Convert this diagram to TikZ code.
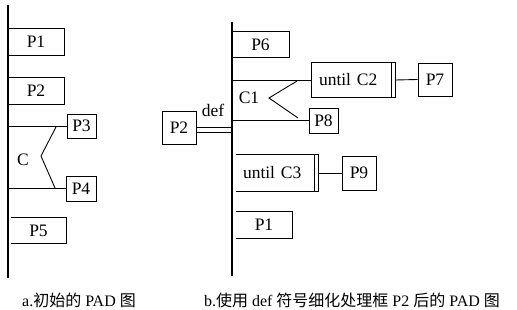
\documentclass[tikz,border=0pt]{standalone}
\usepackage{fontspec}
\setmainfont{Liberation Serif}
\newfontfamily\cjk{Noto Sans CJK SC}

\begin{document}
\begin{tikzpicture}[x=1pt,y=-1pt,line width=0.9pt,
    every node/.style={font=\fontsize{17.5}{19}\selectfont},
    seqbox/.style={minimum width=56pt,minimum height=26pt,inner sep=0pt},
    procbox/.style={draw,minimum width=30pt,minimum height=25pt,inner sep=0pt},
    loopbox/.style={text width=65pt,inner xsep=7pt,inner ysep=0pt,minimum height=35pt}]
\useasboundingbox (0,0) rectangle (517,310);

% a. initial PAD
\coordinate (atop) at (8,5);
\coordinate (abot) at (8,278);
\draw[line width=1.3pt] (atop) -- (abot);
\node[seqbox] (a1) at (36,42) {P1};
\node[seqbox] (a2) at (36,91) {P2};
\node[procbox,minimum width=29pt,minimum height=24pt] (a3) at (81.5,126) {P3};
\node[procbox] (a4) at (81,188.5) {P4};
\node[seqbox,minimum width=55pt,minimum height=25pt] (a5) at (38.5,230.5) {P5};
\node (ac) at (23,160) {C};
\draw (a3.west -| atop) -- (a3.west);
\draw (a4.west -| atop) -- (a4.west);
\draw (56,127) -- (41,156) -- (55,188);

% b. after refining P2 with def
\coordinate (btop) at (232,22);
\coordinate (bbot) at (232,276);
\draw[line width=1.3pt] (btop) -- (bbot);
\node[seqbox,minimum width=57pt,minimum height=25pt] (b6) at (260.5,44.5) {P6};
\node[loopbox] (c2) at (351.5,80) {until C2};
\node[procbox,minimum width=34pt,minimum height=33pt] (b7) at (435,79.5) {P7};
\node[procbox,minimum width=29pt] (b8) at (323.5,120.5) {P8};
\node (c1) at (249,98) {C1};
\node[procbox,minimum width=34pt,minimum height=33pt] (b2) at (179,127.5) {P2};
\node (def) at (213,110) {def};
\node[loopbox,text width=64pt,minimum height=36pt] (c3) at (275,173) {until C3};
\node[procbox,minimum width=34pt,minimum height=34pt] (b9) at (359,173) {P9};
\node[seqbox] (b1) at (264,225) {P1};

\draw (c2.west -| btop) -- (c2.west);
\draw ([xshift=4pt]c2.east) -- (b7.west);
\draw (b8.west -| btop) -- (b8.west);
\draw (297,81) -- (269,98) -- (298,118);
\draw ([yshift=0.5pt]b2.east) -- ([yshift=0.5pt]b2.east -| btop);
\draw ([yshift=-4.5pt]b2.east) -- ([yshift=-4.5pt]b2.east -| btop);
\draw ([xshift=4pt]c3.east) -- (b9.west);

% loop boxes
\draw ([xshift=5pt]c2.north east) -- (c2.north west) -- (c2.south west) -- ([xshift=5pt]c2.south east);
\draw ([xshift=5pt]c3.north east) -- (c3.north west) (c3.south west) -- ([xshift=5pt]c3.south east);
\foreach \n in {c2,c3}
  \draw (\n.north east) -- (\n.south east) ([xshift=4pt]\n.north east) -- ([xshift=4pt]\n.south east);

% sequence boxes
\foreach \n in {a1,a2,a5,b6,b1}
  \draw (\n.north west) -- ([xshift=1pt]\n.north east)
        ([yshift=1pt]\n.north east) -- ([yshift=-1pt]\n.south east)
        (\n.south west) -- ([xshift=1pt]\n.south east);

% captions
\node[font=\fontsize{16}{18}\selectfont] (capa) at (79,300) {a.{\cjk 初始的} PAD {\cjk 图}};
\node[font=\fontsize{16}{18}\selectfont] (capb) at (352,300) {b.{\cjk 使用} def {\cjk 符号细化处理框} P2 {\cjk 后的} PAD {\cjk 图}};
\end{tikzpicture}
\end{document}
